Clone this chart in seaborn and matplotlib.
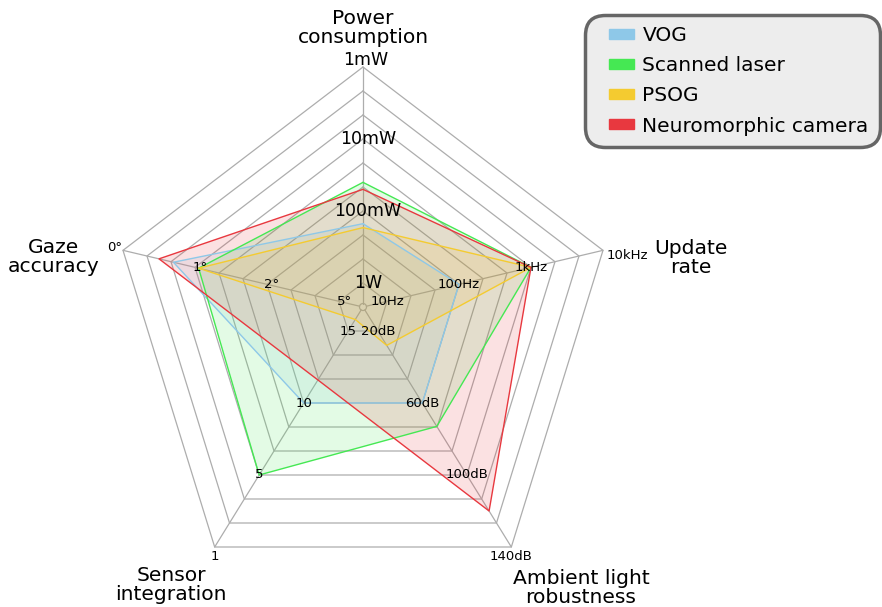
import numpy as np
import matplotlib
matplotlib.use('Agg')
import matplotlib.pyplot as plt
from matplotlib.patches import Patch, Rectangle, Circle
from matplotlib.legend_handler import HandlerPatch
import seaborn as sns

# %% data
axis_names = ['Power\nconsumption', 'Update\nrate', 'Ambient light\nrobustness',
              'Sensor\nintegration', 'Gaze\naccuracy']

tick_rings = [1, 4, 7, 10]                 # ring index of each tick (10 = outer)
power_ticks = [1000, 100, 10, 1]           # mW
power_labels = ['1W', '100mW', '10mW', '1mW']
rate_ticks = [10, 100, 1000, 10000]        # Hz
rate_labels = ['10Hz', '100Hz', '1kHz', '10kHz']
light_ticks = [20, 60, 100, 140]           # dB
light_labels = ['20dB', '60dB', '100dB', '140dB']
integ_ticks = [15, 10, 5, 1]
integ_labels = ['15', '10', '5', '1']
gaze_ticks = [5, 2, 1, 0]                  # degrees
gaze_labels = ['5°', '2°', '1°', '0°']

methods = ['VOG', 'Scanned laser', 'PSOG', 'Neuromorphic camera']
colors = ['#8ec8e8', '#45e853', '#f4cb30', '#e8383f']

power = [150, 40, 170, 50]        # mW
rate = [100, 1000, 1000, 1000]    # Hz
light = [60, 73, 28, 120]         # dB
integ = [10, 5, 15.8, 11.6]
gaze = [0.7, 1.05, 1.05, 0.5]     # degrees


def to_ring(values, ticks, log=False):
    v = np.asarray(values, float)
    t = np.asarray(ticks, float)
    if log:
        v, t = np.log10(v), np.log10(t)
    order = np.argsort(t)
    t, rr = t[order], np.asarray(tick_rings, float)[order]
    r = np.interp(v, t, rr)
    lo, hi = v < t[0], v > t[-1]
    r[lo] = rr[0] + (v[lo] - t[0]) * (rr[1] - rr[0]) / (t[1] - t[0])
    r[hi] = rr[-1] + (v[hi] - t[-1]) * (rr[-1] - rr[-2]) / (t[-1] - t[-2])
    return r


rings = np.vstack([
    to_ring(power, power_ticks, log=True),
    to_ring(rate, rate_ticks, log=True),
    to_ring(light, light_ticks),
    to_ring(integ, integ_ticks),
    to_ring(gaze, gaze_ticks),
])  # shape (axis, method)

# pentagon spokes, stretched to fill a square
theta = np.deg2rad([90, 18, -54, -126, 162])
s54 = np.sin(np.deg2rad(54))
ux = np.cos(theta) / np.cos(np.deg2rad(18))
uy = (np.sin(theta) - (1 - s54) / 2) / ((1 + s54) / 2)

px = 1 / 240  # one pixel in axis units

sns.set_theme(style='white')
plt.rcParams['font.family'] = ['DejaVu Sans']
plt.rcParams['text.color'] = 'black'

fig = plt.figure(figsize=(8.82, 6.07), dpi=100)
ax = fig.add_axes([0, 0, 1, 1])
ax.set_xlim(-363 * px, 519 * px)
ax.set_ylim(-300 * px, 307 * px)
ax.axis('off')

grid_c = '#adadad'
for k in range(1, 11):
    gx = np.append(ux, ux[0]) * k / 10
    gy = np.append(uy, uy[0]) * k / 10
    ax.plot(gx, gy, color=grid_c, lw=0.9, zorder=1)
r0 = 3.5 * px
for i in range(5):
    n = np.hypot(ux[i], uy[i])
    ax.plot([ux[i] * r0 / n, ux[i]], [uy[i] * r0 / n, uy[i]], color=grid_c, lw=0.9, zorder=1)
ax.add_patch(Circle((0, 0), r0, fill=False, ec=grid_c, lw=0.9, zorder=1))

# series
for j, (m, c) in enumerate(zip(methods, colors)):
    r = rings[:, j] / 10
    xs = np.append(r * ux, r[0] * ux[0])
    ys = np.append(r * uy, r[0] * uy[0])
    ax.fill(xs, ys, color=c, alpha=0.15, lw=0, zorder=2)
    sns.lineplot(x=xs, y=ys, sort=False, estimator=None, color=c, lw=1.0,
                 ax=ax, zorder=3, legend=False)

# tick labels
all_labels = [power_labels, rate_labels, light_labels, integ_labels, gaze_labels]
for i, labs in enumerate(all_labels):
    fs = 12.5 if i == 0 else 9.5
    for k, lab in zip(tick_rings, labs):
        x, y = ux[i] * k / 10, uy[i] * k / 10
        if k < 10:
            dx = 5 * px if i in (0, 4) else 0
            ax.text(x + dx, y, lab, ha='center', va='center', fontsize=fs, zorder=4)
        elif i == 0:
            ax.text(x + 3 * px, y + 2 * px, lab, ha='center', va='baseline', fontsize=fs, zorder=4)
        elif i == 1:
            ax.text(x + 4 * px, y - 5 * px, lab, ha='left', va='center', fontsize=fs, zorder=4)
        elif i in (2, 3):
            ax.text(x, y - 3 * px, lab, ha='center', va='top', fontsize=fs, zorder=4)
        else:
            ax.text(x - 1 * px, y + 3 * px, lab, ha='right', va='center', fontsize=fs, zorder=4)

# axis titles
title_pos = [(0, 1.163), (1.367, 0.204), (0.908, -1.171), (-0.80, -1.158), (-1.2875, 0.208)]
for name, (tx, ty) in zip(axis_names, title_pos):
    ax.text(tx, ty, name, ha='center', va='center', multialignment='center',
            fontsize=14.6, linespacing=1.02)


def swatch(legend, orig_handle, xdescent, ydescent, width, height, fontsize):
    w, h = 18, 7.2
    return Rectangle((-xdescent + width - w, -ydescent + (height - h) / 2), w, h)


handles = [Patch(color=c) for c in colors]
leg = fig.legend(handles, methods, loc='upper right',
                 bbox_to_anchor=(880 / 882, 1 - 15 / 607), bbox_transform=fig.transFigure,
                 borderaxespad=0, borderpad=0.56, labelspacing=0.55,
                 handlelength=1.9, handletextpad=0.4, fontsize=14.5,
                 frameon=True, fancybox=True, framealpha=1,
                 handler_map={Patch: HandlerPatch(patch_func=swatch)})
frame = leg.get_frame()
frame.set_boxstyle('round', pad=0, rounding_size=1.0)
frame.set_edgecolor('#666666')
frame.set_linewidth(2.5)
frame.set_facecolor('#ededed')

fig.savefig('out.png', dpi=100)
